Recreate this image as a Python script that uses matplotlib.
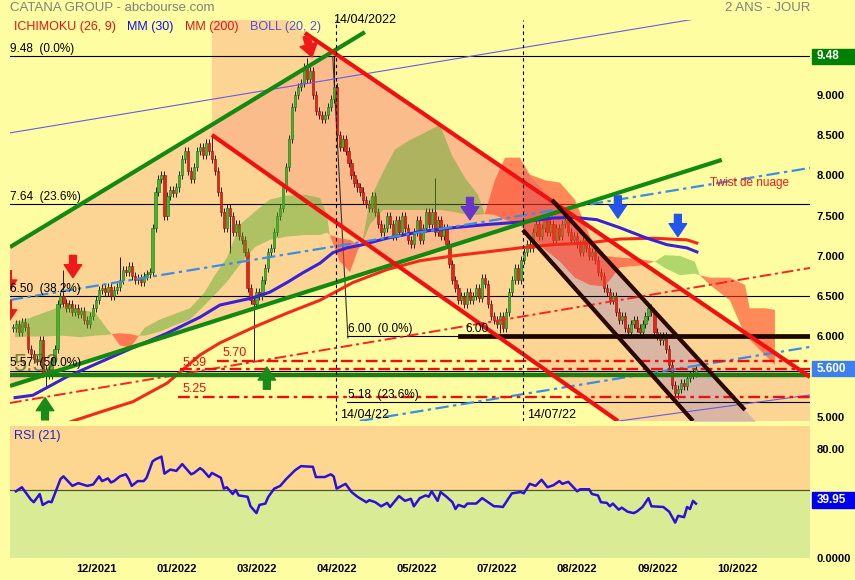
import matplotlib
matplotlib.use("Agg")
import matplotlib.pyplot as plt
import numpy as np

plt.rcParams['font.family'] = ['Liberation Sans', 'DejaVu Sans']

FOND = '#fffda2'
ORANGE = '#f89a80'
VERT_C = '#3cb82c'
ROUGE_C = '#ea2414'

# cours de cloture par seance (index 0 = debut nov. 2021)
closes = [6.10, 6.15, 6.05, 6.18, 6.12, 5.85, 5.78, 5.72, 5.70, 5.95,
          5.55, 5.60, 5.52, 5.70, 5.85, 6.40, 6.50, 6.42, 6.35, 6.40,
          6.30, 6.35, 6.28, 6.32, 6.20, 6.15, 6.25, 6.35, 6.45, 6.58,
          6.60, 6.55, 6.62, 6.50, 6.58, 6.62, 6.70, 6.82, 6.80, 6.88,
          6.75, 6.70, 6.72, 6.68, 6.75, 6.78, 6.80, 7.35, 7.80, 7.95,
          8.00, 7.50, 7.75, 7.82, 7.78, 7.85, 8.00, 8.20, 8.30, 8.05,
          7.95, 8.10, 8.30, 8.35, 8.25, 8.40, 8.30, 8.20, 8.05, 7.80,
          7.55, 7.35, 7.60, 7.50, 7.30, 7.40, 7.25, 7.20, 7.05, 6.60,
          6.45, 6.40, 6.55, 6.50, 6.70, 6.85, 7.05, 7.10, 7.30, 7.50,
          7.60, 7.85, 8.10, 8.45, 8.85, 9.00, 9.10, 9.15, 9.35, 9.20,
          9.30, 9.00, 8.80, 8.75, 8.70, 8.75, 8.85, 8.95, 9.10, 8.50,
          8.35, 8.45, 8.30, 8.15, 8.00, 7.90, 7.85, 7.80, 7.70, 7.65,
          7.60, 7.75, 7.55, 7.40, 7.30, 7.35, 7.50, 7.40, 7.25, 7.45,
          7.30, 7.50, 7.35, 7.20, 7.15, 7.30, 7.45, 7.20, 7.35, 7.55,
          7.40, 7.55, 7.30, 7.45, 7.25, 7.35, 7.15, 6.90, 6.70, 6.60,
          6.45, 6.50, 6.40, 6.55, 6.45, 6.50, 6.60, 6.48, 6.72, 6.65,
          6.40, 6.25, 6.20, 6.15, 6.25, 6.10, 6.30, 6.55, 6.70, 6.85,
          6.70, 6.95, 7.05, 7.15, 7.10, 7.30, 7.40, 7.25, 7.35, 7.45,
          7.30, 7.40, 7.20, 7.35, 7.25, 7.40, 7.45, 7.30, 7.20, 7.25,
          7.15, 7.05, 7.20, 7.10, 7.00, 7.05, 6.95, 6.80, 6.75, 6.60,
          6.55, 6.45, 6.50, 6.30, 6.20, 6.25, 6.10, 6.05, 6.15, 6.20,
          6.10, 6.05, 6.15, 6.25, 6.35, 6.30, 6.05, 6.00, 5.95, 6.00,
          5.85, 5.65, 5.40, 5.30, 5.35, 5.42, 5.38, 5.48, 5.52, 5.55, 5.60]

# meches remarquables
hauts = {17: 6.83, 36: 6.99, 67: 8.50, 99: 9.46, 108: 9.48, 142: 7.97}
bas = {11: 5.37, 73: 7.04, 81: 5.70, 164: 6.04, 224: 5.22}

# RSI (21)
rsi_idx = [1, 3, 6, 7, 9, 10, 12, 13, 16, 17,
           20, 22, 25, 27, 29, 30, 32, 33, 34, 36,
           38, 39, 40, 42, 44, 45, 47, 48, 50, 51,
           53, 55, 57, 60, 61, 63, 64, 66, 67, 70,
           71, 72, 74, 75, 76, 79, 80, 82, 83, 85,
           86, 88, 90, 92, 95, 97, 101, 102, 105, 107,
           108, 109, 112, 114, 116, 119, 120, 122, 124, 126,
           127, 130, 132, 134, 135, 137, 139, 140, 141, 143,
           144, 146, 148, 149, 150, 152, 153, 156, 158, 162,
           163, 165, 168, 171, 172, 174, 176, 178, 180, 182,
           184, 185, 187, 190, 191, 194, 195, 197, 198, 200,
           201, 202, 204, 205, 207, 209, 210, 212, 214, 215,
           219, 221, 223, 224, 226, 227, 228, 229, 230]
rsi_val = [49, 52, 43, 41, 47, 39, 41.5, 41, 58, 60,
           53, 55, 53, 54, 60, 56.5, 58.5, 55.5, 56.5, 60,
           61.5, 58, 53, 56.5, 56.5, 59, 71, 72.5, 74.5, 62,
           65, 64, 69, 61.5, 62.5, 66, 64.5, 59.5, 62.5, 59,
           51, 52, 47, 50, 46, 45, 38, 33, 39, 40,
           45, 51, 53, 58, 64.5, 67.5, 67, 59.5, 59.5, 61.5,
           60, 51, 54.5, 48.5, 45, 41, 42.5, 41, 38, 40.5,
           37.5, 45.5, 42, 43.5, 38, 44, 46, 45, 49, 42,
           48.5, 45, 41, 36, 39, 37.5, 40, 40, 44, 38,
           38, 37.5, 47.5, 48.5, 47.5, 54.5, 53, 57.5, 52, 53.5,
           56.5, 54.5, 56, 49, 50.5, 50.5, 47, 46, 41, 40.5,
           38, 40, 35.5, 37, 34, 33, 34, 37.5, 44, 38,
           37.5, 34, 26, 31, 30, 37.5, 36, 42, 39.95]

# moyennes mobiles
mm30_idx = [0.7, 6.7, 18.2, 29.3, 40.4, 51.9, 63.0, 69.7, 80.8, 86.5,
            92.3, 97.6, 103.4, 107.7, 112.5, 117.8, 125.9, 137.0, 148.1, 159.6,
            170.7, 181.8, 188.6, 196.6, 204.4, 213.5, 220.2, 226.9, 230.3]
mm30_val = [5.24, 5.27, 5.50, 5.68, 5.86, 6.04, 6.24, 6.39, 6.48, 6.55,
            6.67, 6.79, 6.91, 7.04, 7.10, 7.14, 7.22, 7.30, 7.35, 7.39,
            7.42, 7.47, 7.48, 7.45, 7.35, 7.22, 7.14, 7.10, 7.05]
mm200_idx = [15.0, 20.2, 29.3, 40.4, 51.9, 63.0, 69.7, 80.8, 92.3, 103.4, 114.5,
             125.9, 137.0, 148.1, 159.6, 170.7, 181.8, 193.3, 204.4, 215.5, 226.9, 230.3]
mm200_val = [4.88, 4.95, 5.06, 5.19, 5.42, 5.77, 5.92, 6.11, 6.29, 6.45, 6.67,
             6.83, 6.94, 7.00, 7.05, 7.10, 7.14, 7.16, 7.21, 7.22, 7.20, 7.16]

# nuage ichimoku (senkou A / senkou B)
nuage_idx = [0.7, 5.7, 10.8, 16.8, 22.6, 27.6, 32.0, 33.3, 36.0, 39.4,
             41.8, 44.4, 49.5, 54.5, 59.6, 64.6, 68.0, 72.1, 76.4, 81.5,
             86.5, 92.3, 98.3, 103.4, 105.7, 106.7, 110.1, 113.5, 116.2, 117.5,
             120.2, 124.6, 128.6, 133.7, 138.7, 143.8, 147.8, 152.2, 156.6, 158.9,
             162.3, 165.7, 170.7, 174.1, 179.1, 184.2, 189.2, 194.3, 199.3, 204.4,
             211.1, 216.2, 219.5, 224.6, 229.6, 231.3, 234.7, 241.4, 246.5, 248.1,
             253.2, 256.6]
ssa = [6.18, 6.23, 6.30, 6.38, 6.33, 6.30, 6.08, 6.03, 5.89, 5.86,
       5.98, 6.11, 6.21, 6.28, 6.35, 6.55, 6.76, 6.98, 7.39, 7.55,
       7.70, 7.75, 7.76, 7.72, 7.51, 7.26, 6.93, 6.80, 7.08, 7.14,
       7.70, 8.04, 8.32, 8.44, 8.53, 8.63, 8.25, 7.97, 7.76, 7.52,
       7.51, 7.45, 7.39, 7.26, 7.08, 6.93, 6.73, 6.64, 6.62, 6.86,
       6.88, 6.93, 7.01, 7.00, 6.93, 6.76, 6.64, 6.45, 6.02, 5.96,
       5.77, 5.65]
ssb = [5.99, 6.00, 6.00, 6.01, 5.99, 6.01, 6.02, 6.03, 6.04, 6.03,
       6.01, 6.01, 6.06, 6.14, 6.21, 6.39, 6.52, 6.68, 6.89, 7.11,
       7.20, 7.24, 7.26, 7.26, 7.29, 7.26, 7.22, 7.20, 7.14, 7.14,
       7.39, 7.57, 7.57, 7.57, 7.57, 7.57, 7.55, 7.52, 7.51, 7.52,
       7.94, 8.22, 8.22, 8.01, 7.94, 7.91, 7.70, 7.24, 7.00, 6.98,
       6.96, 6.93, 6.85, 6.76, 6.78, 6.76, 6.73, 6.73, 6.64, 6.35,
       6.35, 6.33]

# lignes de tendance (index, prix)
vert_haut = [(-1, 7.11), (118.5, 9.78)]
vert_bas = [(-1, 5.385), (238.7, 8.193)]
rouge_haut = [(98.3, 9.77), (268.4, 5.497)]
rouge_bas = [(67.0, 8.503), (203.7, 4.95)]
noir_haut = [(181.5, 7.696), (246.5, 5.087)]
noir_bas = [(171.7, 7.323), (229.0, 4.95)]
bleu_haut = [(-1, 6.453), (268.4, 8.093)]
bleu_bas = [(116.8, 4.95), (268.4, 5.87)]
rouge_pointille = [(-1, 5.174), (268.4, 6.851)]
boll_haut = [(-1, 8.528), (268.4, 10.18)]
boll_bas = [(204, 4.95), (268.4, 5.273)]
fibo_trait = [(107.7, 9.472), (112.8, 5.981)]

# niveaux
fibo1 = [9.48, 7.64, 6.50, 5.57]
fibo1_txt = ['9.48  (0.0%)', '7.64  (23.6%)', '6.50  (38.2%)', '5.57  (50.0%)']
supports = [(5.70, 68.7), (5.59, 56.2), (5.25, 55.6)]
date_idx = [108.8, 171.7]
mois_idx = [28, 55, 82, 109, 136, 163, 190, 217, 244]
mois_txt = ['12/2021', '01/2022', '03/2022', '04/2022', '05/2022',
            '07/2022', '08/2022', '09/2022', '10/2022']
prix_ticks = [5.0, 6.0, 6.5, 7.0, 7.5, 8.0, 8.5, 9.0]

XMIN, XMAX = -1, 268.4


def droite(seg, x):
    (i0, v0), (i1, v1) = seg
    return v0 + (v1 - v0) * (np.asarray(x, dtype=float) - i0) / (i1 - i0)


def croisement(s1, s2):
    (a0, b0), (a1, b1) = s1
    (c0, d0), (c1, d1) = s2
    m1 = (b1 - b0) / (a1 - a0)
    m2 = (d1 - d0) / (c1 - c0)
    x = (d0 - b0 + m1 * a0 - m2 * c0) / (m1 - m2)
    return x, b0 + m1 * (x - a0)


fig = plt.figure(figsize=(8.55, 5.8), dpi=100, facecolor=FOND)
ax = fig.add_axes([10 / 855, 159 / 580, 800 / 855, 401 / 580], facecolor=FOND)
ax2 = fig.add_axes([10 / 855, 22 / 580, 800 / 855, 132 / 580], facecolor=FOND)

# zones : triangle haussier et canaux
sommet = croisement(vert_haut, rouge_haut)
pointe = croisement(rouge_haut, vert_bas)
tri = [vert_haut[0], sommet, pointe, vert_bas[0]]
ax.fill(*zip(*tri), color=ORANGE, alpha=0.41, lw=0, zorder=1)
xs = np.array([67.0, XMAX])
ax.fill_between(xs, droite(rouge_bas, xs), droite(rouge_haut, xs), color=ORANGE, alpha=0.41, lw=0, zorder=1)
xs = np.array([171.7, XMAX])
ax.fill_between(xs, droite(noir_bas, xs), droite(noir_haut, xs), color='#997ec3', alpha=0.35, lw=0, zorder=1)

# fibonacci
for v in fibo1:
    ax.plot([XMIN, XMAX], [v, v], color='black', lw=0.8, zorder=2)
for v, t in zip(fibo1, fibo1_txt):
    ax.text(-1, v + 0.02, t, fontsize=8.5, va='bottom', ha='left', zorder=9)
ax.plot([112.5, 150.5], [6.0, 6.0], color='black', lw=0.8, zorder=2)
ax.plot([112.5, XMAX], [5.18, 5.18], color='black', lw=0.8, zorder=2)
ax.plot(*zip(*fibo_trait), color='#333333', lw=0.8, zorder=2)
ax.text(112.8, 6.02, '6.00  (0.0%)', fontsize=8.5, va='bottom', zorder=9)
ax.text(112.8, 5.20, '5.18  (23.6%)', fontsize=8.5, va='bottom', zorder=9)

# chandeliers
n = len(closes)
idx = np.arange(n)
c = np.array(closes)
o = np.concatenate([[closes[0]], c[:-1]])
hi = np.maximum(o, c) + 0.05
lo = np.minimum(o, c) - 0.05
for k, v in hauts.items():
    hi[k] = v
for k, v in bas.items():
    lo[k] = v
hausse = c >= o
ax.vlines(idx, lo, hi, color='#2a1a0a', lw=0.7, zorder=3)
ax.bar(idx, np.maximum(np.abs(c - o), 0.015), bottom=np.minimum(o, c), width=0.75,
       color=np.where(hausse, VERT_C, ROUGE_C),
       edgecolor=np.where(hausse, '#1b6a12', '#8a1208'), lw=0.4, zorder=3)

# nuage
na, nb = np.array(ssa), np.array(ssb)
ax.fill_between(nuage_idx, na, nb, where=na >= nb, interpolate=True, color='#50aa28', alpha=0.45, lw=0, zorder=4)
ax.fill_between(nuage_idx, na, nb, where=na <= nb, interpolate=True, color='#ff3c28', alpha=0.6, lw=0, zorder=4)

# moyennes
ax.plot(mm200_idx, mm200_val, color='#f22a1a', lw=2.2, zorder=5)
ax.plot(mm30_idx, mm30_val, color='#3a22d8', lw=2.2, zorder=5)

# lignes fines et pointillees
ax.plot(*zip(*boll_haut), color='#6a5ae8', lw=0.8, zorder=5)
ax.plot(*zip(*boll_bas), color='#6a5ae8', lw=0.8, zorder=5)
ax.plot(*zip(*bleu_haut), color='#3a8ee8', lw=1.6, ls=(0, (6, 2, 1.5, 2)), zorder=5)
ax.plot(*zip(*bleu_bas), color='#3a8ee8', lw=1.6, ls=(0, (6, 2, 1.5, 2)), zorder=5)
ax.plot(*zip(*rouge_pointille), color='#ff2020', lw=1.4, ls=(0, (6, 2, 1.5, 2)), zorder=5)
for v, d in supports:
    ax.plot([d, XMAX], [v, v], color='#ee1010', lw=1.7, ls=(0, (5, 2, 1.5, 2)), zorder=6)
ax.text(70.4, 5.72, '5.70', color='#ee1010', fontsize=9, va='bottom', zorder=9)
ax.text(57.0, 5.60, '5.59', color='#ee1010', fontsize=9, va='bottom', zorder=9)
ax.text(57.0, 5.27, '5.25', color='#ee1010', fontsize=9, va='bottom', zorder=9)

# support vert et niveau 6.00
ax.plot([XMIN, XMAX], [5.52, 5.52], color='#1e7a14', lw=3.2, zorder=6)
ax.text(0, 5.51, '5.52', color='#4a6a20', alpha=0.75, fontsize=17, va='bottom', zorder=7)
ax.plot([150.5, XMAX], [6.0, 6.0], color='#1a0500', lw=3.4, zorder=6)
ax.text(152.2, 6.02, '6.00', fontsize=8.5, va='bottom', zorder=9)

# droites de tendance
for seg, col in [(vert_haut, '#128a12'), (vert_bas, '#128a12'),
                 (rouge_haut, '#f01010'), (rouge_bas, '#f01010'),
                 (noir_haut, '#2a0800'), (noir_bas, '#2a0800')]:
    ax.plot(*zip(*seg), color=col, lw=3.0, solid_capstyle='butt', zorder=7)

# verticales de dates
for d in date_idx:
    ax.axvline(d, color='black', lw=0.8, ls=(0, (3, 3)), zorder=7)
ax.text(107.7, 9.93, '14/04/2022', fontsize=9, va='center', zorder=9)
ax.text(110.0, 4.955, '14/04/22', fontsize=9, va='bottom', zorder=9)
ax.text(173.0, 4.955, '14/07/22', fontsize=9, va='bottom', zorder=9)
ax.text(234.7, 7.907, 'Twist de nuage', color='#ee1a1a', fontsize=8.5, va='center', zorder=9)


# fleches
def fleche(x, y, couleur, dx=0, dy=16):
    a = ax.annotate('', xy=(x, y), xytext=(dx, dy), textcoords='offset points',
                    annotation_clip=False,
                    arrowprops=dict(arrowstyle='simple,head_width=1.15,head_length=0.85,tail_width=0.45',
                                    color=couleur, mutation_scale=11, shrinkA=0, shrinkB=0), zorder=8)
    a.arrow_patch.set_clip_path(ax.patch)


for x, y in [(20.2, 6.73), (-1.7, 6.54), (-1.7, 6.17)]:
    fleche(x, y, '#ee1a1a')
fleche(100.7, 9.47, '#ee1a1a', dx=-4, dy=15)
for x, y in [(10.8, 5.24), (85.5, 5.62)]:
    fleche(x, y, '#1a8a1a', dy=-16)
fleche(153.9, 7.45, '#6a35c8')
for x, y in [(203.7, 7.47), (223.9, 7.24)]:
    fleche(x, y, '#2454ee')

ax.set_xlim(XMIN, XMAX)
ax.set_ylim(4.95, 9.93)
ax.yaxis.tick_right()
ax.set_yticks(prix_ticks)
ax.set_yticklabels(['%.3f' % v for v in prix_ticks], fontsize=8, fontweight='bold')
ax.tick_params(axis='y', length=0, pad=5)
ax.tick_params(axis='x', bottom=False, labelbottom=False)
for s in ax.spines.values():
    s.set_visible(False)

# etiquettes de prix a droite
tr = ax.get_yaxis_transform()
ax.add_patch(plt.Rectangle((1.0025, 9.48 - 0.095), 0.06, 0.19, transform=tr, clip_on=False, color='#008000', zorder=10))
ax.text(1.008, 9.48, '9.48', transform=tr, color='white', fontsize=8.5, fontweight='bold', va='center', zorder=11)
ax.add_patch(plt.Rectangle((1.0025, closes[-1] - 0.095), 0.06, 0.19, transform=tr, clip_on=False, color='#3d7fef', zorder=10))
ax.text(1.008, closes[-1], '%.3f' % closes[-1], transform=tr, color='white', fontsize=8.5, fontweight='bold', va='center', zorder=11)

# RSI
ax2.axhspan(50, 97, color='#fdd68f', lw=0, zorder=0)
ax2.axhspan(0, 50, color='#daeb95', lw=0, zorder=0)
ax2.axhline(50, color='#4a5a2a', lw=0.9, zorder=1)
ax2.plot(rsi_idx, rsi_val, color='#2a10d8', lw=1.8, zorder=3)
ax2.text(0.5, 90, 'RSI (21)', color='#2222cc', fontsize=9, va='center')
ax2.set_xlim(XMIN, XMAX)
ax2.set_ylim(0, 97)
ax2.yaxis.tick_right()
ax2.set_yticks([0, 80])
ax2.set_yticklabels(['0.0000', '80.00'], fontsize=8, fontweight='bold')
ax2.set_xticks(mois_idx)
ax2.set_xticklabels(mois_txt, fontsize=8, fontweight='bold')
ax2.tick_params(length=0)
ax2.tick_params(axis='y', pad=5)
ax2.tick_params(axis='x', pad=4)
for s in ax2.spines.values():
    s.set_visible(False)
tr2 = ax2.get_yaxis_transform()
ax2.add_patch(plt.Rectangle((1.0025, rsi_val[-1] - 3.5), 0.06, 12, transform=tr2, clip_on=False, color='#0000ee', zorder=10))
ax2.text(1.008, rsi_val[-1] + 2.5, '%.2f' % rsi_val[-1], transform=tr2, color='white', fontsize=8.5, fontweight='bold', va='center', zorder=11)

# en-tetes
fig.text(10 / 855, 1 - 8 / 580, 'CATANA GROUP - abcbourse.com', color='#808080', fontsize=9.5, va='center')
fig.text(810 / 855, 1 - 8 / 580, '2 ANS - JOUR', color='#808080', fontsize=9.5, va='center', ha='right')
for x, t, col in [(14, 'ICHIMOKU (26, 9)', '#ee1010'), (127, 'MM (30)', '#1010ee'),
                  (185, 'MM (200)', '#ee1010'), (250, 'BOLL (20, 2)', '#5050dd')]:
    fig.text(x / 855, 1 - 27 / 580, t, color=col, fontsize=9, va='center')

fig.savefig('out.png', dpi=100, facecolor=FOND)
